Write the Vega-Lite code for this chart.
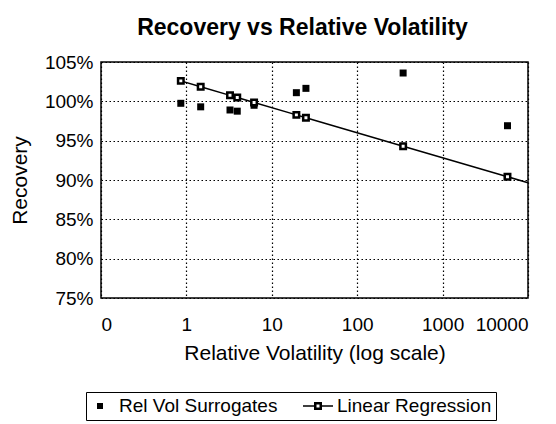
{
  "$schema": "https://vega.github.io/schema/vega-lite/v6.json",
  "width": 427,
  "height": 236,
  "autosize": {"type": "none"},
  "padding": {"left": 101, "top": 62, "right": 28, "bottom": 126},
  "background": "white",
  "title": {
    "text": "Recovery vs Relative Volatility",
    "font": "Liberation Sans",
    "fontSize": 23,
    "fontWeight": "bold",
    "color": "black",
    "offset": 13,
    "dx": -12
  },
  "data": {
    "values": [
      {"x": 0.86, "y": 1.026, "series": "Linear Regression"},
      {"x": 1.47, "y": 1.0185, "series": "Linear Regression"},
      {"x": 3.24, "y": 1.0076, "series": "Linear Regression"},
      {"x": 3.94, "y": 1.0049, "series": "Linear Regression"},
      {"x": 6.2, "y": 0.9986, "series": "Linear Regression"},
      {"x": 19.4, "y": 0.9828, "series": "Linear Regression"},
      {"x": 25.1, "y": 0.9792, "series": "Linear Regression"},
      {"x": 345, "y": 0.9428, "series": "Linear Regression"},
      {"x": 5750, "y": 0.9042, "series": "Linear Regression"},
      {"x": 10000, "y": 0.8965, "series": "Linear Regression"},
      {"x": 0.86, "y": 0.9975, "series": "Rel Vol Surrogates"},
      {"x": 1.47, "y": 0.993, "series": "Rel Vol Surrogates"},
      {"x": 3.24, "y": 0.989, "series": "Rel Vol Surrogates"},
      {"x": 3.94, "y": 0.9875, "series": "Rel Vol Surrogates"},
      {"x": 6.2, "y": 0.995, "series": "Rel Vol Surrogates"},
      {"x": 19.4, "y": 1.011, "series": "Rel Vol Surrogates"},
      {"x": 25.1, "y": 1.0165, "series": "Rel Vol Surrogates"},
      {"x": 345, "y": 1.036, "series": "Rel Vol Surrogates"},
      {"x": 5750, "y": 0.969, "series": "Rel Vol Surrogates"}
    ]
  },
  "config": {
    "font": "Liberation Sans",
    "view": {"stroke": "black", "strokeWidth": 1.5},
    "axis": {
      "labelFont": "Liberation Sans",
      "labelFontSize": 19,
      "labelColor": "black",
      "titleFont": "Liberation Sans",
      "titleFontSize": 21,
      "titleFontWeight": "normal",
      "titleColor": "black",
      "ticks": false,
      "domain": false,
      "grid": true,
      "gridColor": "black",
      "gridDash": [1.5, 2.5],
      "gridWidth": 1.2,
      "gridOpacity": 1
    }
  },
  "encoding": {
    "x": {
      "field": "x",
      "type": "quantitative",
      "scale": {"type": "log", "domain": [0.1, 10000], "nice": false},
      "axis": {
        "values": [0.1, 1, 10, 100, 1000, 10000],
        "labelExpr": "datum.value < 1 ? '0' : format(datum.value, 'd')",
        "labelPadding": 17,
        "title": "Relative Volatility (log scale)",
        "titlePadding": 8
      }
    },
    "y": {
      "field": "y",
      "type": "quantitative",
      "scale": {"domain": [0.75, 1.05], "nice": false, "zero": false},
      "axis": {
        "values": [0.75, 0.8, 0.85, 0.9, 0.95, 1.0, 1.05],
        "format": ".0%",
        "labelPadding": 8,
        "title": "Recovery",
        "titlePadding": 14
      }
    }
  },
  "layer": [
    {
      "transform": [{"filter": "datum.series === 'Linear Regression'"}],
      "mark": {"type": "line", "color": "black", "strokeWidth": 1.5}
    },
    {
      "transform": [{"filter": "datum.series === 'Rel Vol Surrogates'"}],
      "mark": {"type": "point", "shape": "square", "filled": true, "size": 49, "color": "black", "opacity": 1}
    },
    {
      "transform": [{"filter": "datum.series === 'Linear Regression' && datum.x < 10000"}],
      "mark": {"type": "point", "shape": "square", "size": 30, "fill": "white", "stroke": "black", "strokeWidth": 2.5, "opacity": 1, "fillOpacity": 1}
    },
    {
      "transform": [{"filter": "false"}],
      "mark": {"type": "point", "filled": true, "color": "black", "size": 400},
      "encoding": {
        "shape": {
          "field": "series",
          "type": "nominal",
          "scale": {
            "domain": ["Rel Vol Surrogates", "Linear Regression"],
            "range": [
              "M-0.3,-0.3H0.3V0.3H-0.3Z",
              "M-1.5,-0.08H-0.4V0.08H-1.5Z M0.4,-0.08H1.5V0.08H0.4Z M-0.4,-0.4H0.4V0.4H-0.4Z M-0.15,-0.15V0.15H0.15V-0.15Z"
            ]
          },
          "legend": {
            "orient": "none",
            "legendX": -15,
            "legendY": 330,
            "direction": "horizontal",
            "title": null,
            "labelFont": "Liberation Sans",
            "labelFontSize": 19,
            "labelColor": "black",
            "labelOffset": 9,
            "columnPadding": 25,
            "padding": 4,
            "symbolSize": 400,
            "symbolFillColor": "black",
            "symbolStrokeWidth": 0,
            "symbolOpacity": 1,
            "strokeColor": "black",
            "fillColor": "white"
          }
        }
      }
    }
  ]
}
